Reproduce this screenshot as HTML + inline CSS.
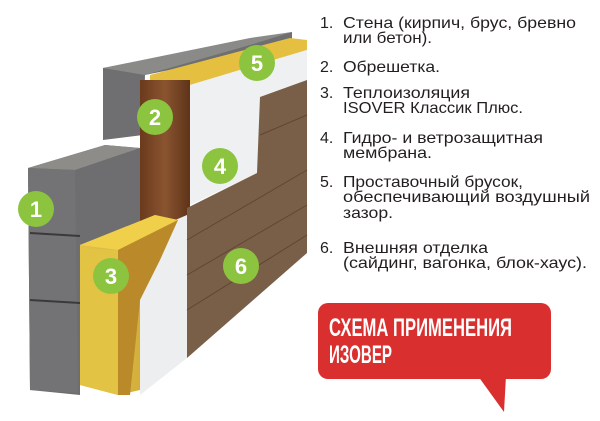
<!DOCTYPE html>
<html><head><meta charset="utf-8"><style>
html,body{margin:0;padding:0;background:#fff;}
svg{display:block;}
</style></head><body>
<svg width="600" height="421" viewBox="0 0 600 421" xmlns="http://www.w3.org/2000/svg">
<defs>
<linearGradient id="wood" x1="0" x2="1"><stop offset="0" stop-color="#6b3a1c"/><stop offset="0.5" stop-color="#8a5430"/><stop offset="1" stop-color="#5e3318"/></linearGradient>
<linearGradient id="ins" x1="0" x2="1"><stop offset="0" stop-color="#e3c24a"/><stop offset="1" stop-color="#c9a233"/></linearGradient>
</defs>
<polygon points="103,68 250,40 292,32 292,45 145,75 143,135 103,140" fill="#6f6f72"/>
<polygon points="103,68 250,38 292,32 250,45 145,75" fill="#8a8a88"/>
<polygon points="150,75 290,38 307,40 307,50 190,85 150,85" fill="#e5c040"/>
<polygon points="140,80 190,80 190,225 140,225" fill="url(#wood)"/>
<polygon points="190,85 307,50 307,85 262,100 257,173 190,205" fill="#eef0f2"/>
<polygon points="28,168 105,145 140,148 140,228 80,245 80,395 30,390" fill="#6e6e71"/>
<polygon points="28,168 105,145 140,148 75,170" fill="#8d8c89"/>
<polygon points="28,168 75,170 78,393 30,390" fill="#737376"/>
<line x1="30" y1="233" x2="80" y2="236" stroke="#3a3a3c" stroke-width="2"/>
<line x1="30" y1="300" x2="80" y2="303" stroke="#3a3a3c" stroke-width="2"/>
<polygon points="140,235 187,215 187,358 140,395" fill="#eceef0"/>
<polygon points="80,245 155,215 178,220 140,245 140,390 118,395 80,385" fill="url(#ins)"/>
<polygon points="80,245 155,215 178,220 118,250" fill="#f0cf4a"/>
<polygon points="118,250 178,220 160,260 140,300 130,395 118,395" fill="#b9892a"/>
<polygon points="80,248 118,250 118,395 80,385" fill="#e3c343"/>
<polygon points="187,208 257,173 260,97 307,80 307,253 187,358" fill="#7a5f48"/>
<g stroke="#5e4634" stroke-width="1">
<line x1="187" y1="240" x2="307" y2="170"/><line x1="187" y1="275" x2="307" y2="205"/><line x1="187" y1="310" x2="307" y2="235"/><line x1="260" y1="135" x2="307" y2="115"/>
</g>
<g fill="#8cc43f">
<circle cx="36" cy="209" r="18"/><circle cx="155" cy="117" r="18"/><circle cx="111" cy="276" r="18"/>
<circle cx="220" cy="166" r="18"/><circle cx="257" cy="63" r="18"/><circle cx="241" cy="266" r="18"/>
</g>
<g fill="#fff" font-family="Liberation Sans, sans-serif" font-weight="bold" font-size="22" text-anchor="middle">
<text x="36" y="217">1</text><text x="155" y="125">2</text><text x="111" y="284">3</text>
<text x="220" y="174">4</text><text x="257" y="71">5</text><text x="241" y="274">6</text>
</g>
<g fill="#231f20" font-family="Liberation Sans, sans-serif" font-size="16" lengthAdjust="spacingAndGlyphs">
<text x="320" y="28">1.</text><text x="343" y="28" textLength="233" lengthAdjust="spacingAndGlyphs">Стена (кирпич, брус, бревно</text>
<text x="343" y="43" textLength="89" lengthAdjust="spacingAndGlyphs">или бетон).</text>
<text x="320" y="72">2.</text><text x="343" y="72" textLength="97" lengthAdjust="spacingAndGlyphs">Обрешетка.</text>
<text x="320" y="98">3.</text><text x="343" y="98" textLength="127" lengthAdjust="spacingAndGlyphs">Теплоизоляция</text>
<text x="343" y="113" textLength="180" lengthAdjust="spacingAndGlyphs">ISOVER Классик Плюс.</text>
<text x="320" y="143">4.</text><text x="343" y="143" textLength="200" lengthAdjust="spacingAndGlyphs">Гидро- и ветрозащитная</text>
<text x="343" y="158" textLength="89" lengthAdjust="spacingAndGlyphs">мембрана.</text>
<text x="320" y="187">5.</text><text x="343" y="187" textLength="180" lengthAdjust="spacingAndGlyphs">Проставочный брусок,</text>
<text x="343" y="202" textLength="247" lengthAdjust="spacingAndGlyphs">обеспечивающий воздушный</text>
<text x="343" y="218" textLength="50" lengthAdjust="spacingAndGlyphs">зазор.</text>
<text x="320" y="253">6.</text><text x="343" y="253" textLength="145" lengthAdjust="spacingAndGlyphs">Внешняя отделка</text>
<text x="343" y="268" textLength="244" lengthAdjust="spacingAndGlyphs">(сайдинг, вагонка, блок-хаус).</text>
</g>
<rect x="318" y="303" width="233" height="76" rx="10" fill="#d9302f"/>
<polygon points="478,376 506,376 504,412" fill="#d9302f"/>
<g fill="#fff" font-family="Liberation Sans, sans-serif" font-weight="bold" font-size="25">
<text x="329" y="336" textLength="183" lengthAdjust="spacingAndGlyphs">СХЕМА ПРИМЕНЕНИЯ</text>
<text x="329" y="363" textLength="63" lengthAdjust="spacingAndGlyphs">ИЗОВЕР</text>
</g>
</svg>
</body></html>
